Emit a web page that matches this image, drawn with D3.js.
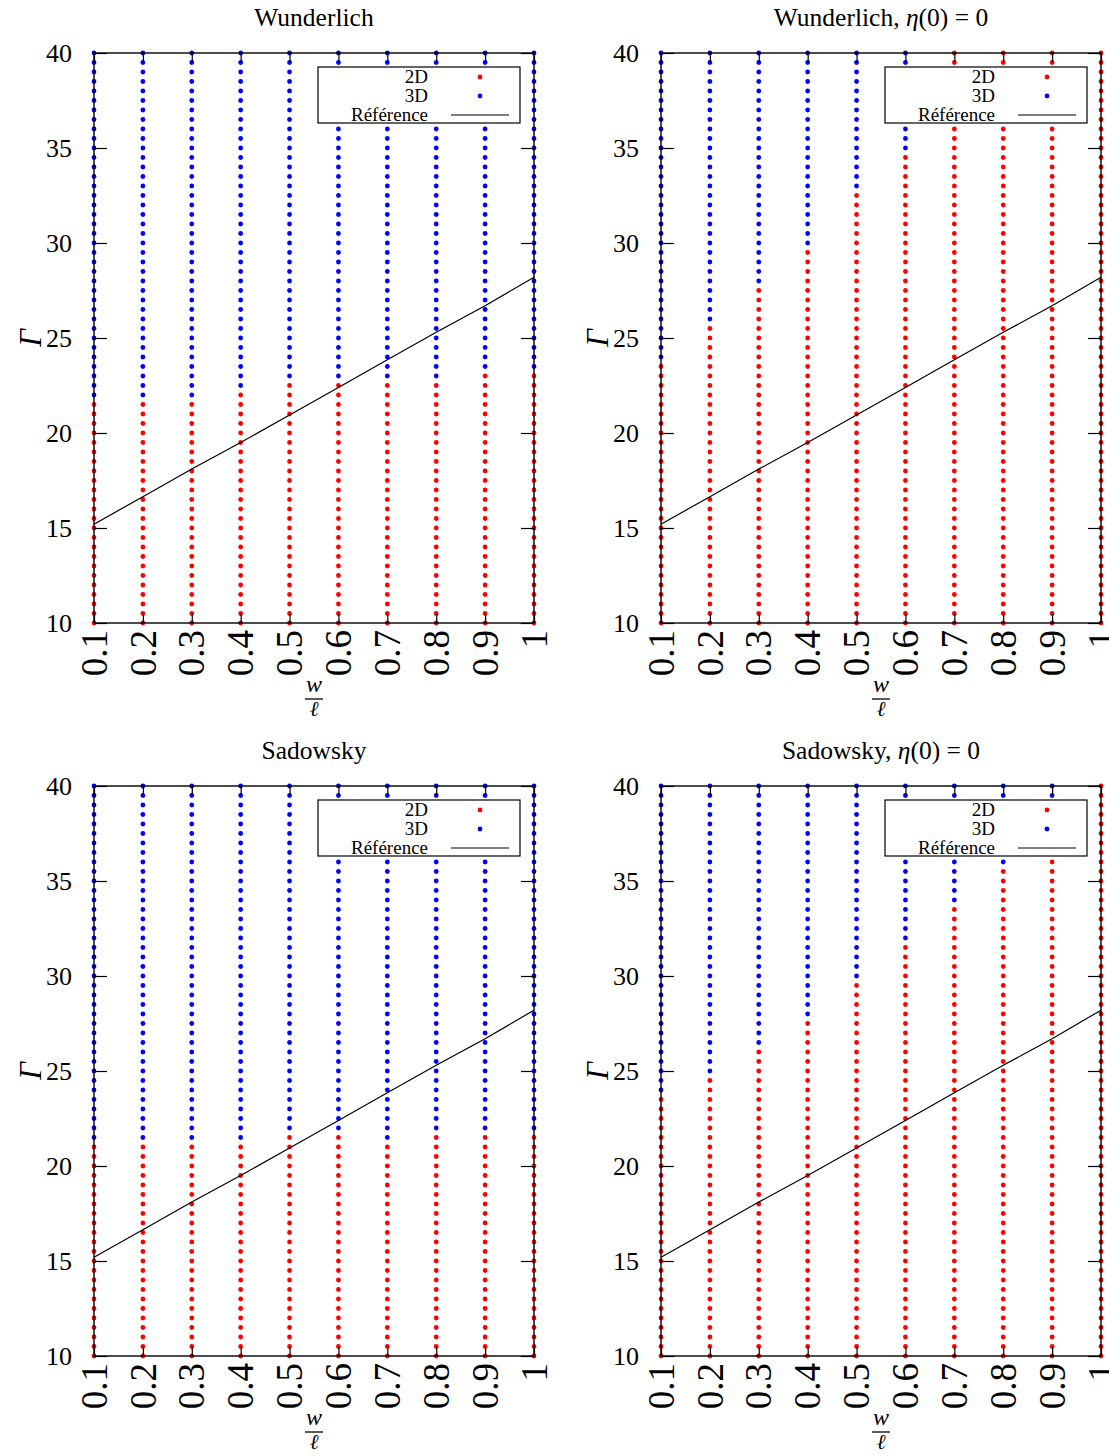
<!DOCTYPE html>
<html>
<head>
<meta charset="utf-8">
<script src="https://cdn.jsdelivr.net/npm/d3@7"></script>
<style>
  body { margin: 0; background: #fff; }
  text { font-family: "Liberation Serif", serif; }
</style>
</head>
<body>
<div id="chart"></div>
<script>
// ratio w/l of each column
const ratios = [0.1, 0.2, 0.3, 0.4, 0.5, 0.6, 0.7, 0.8, 0.9, 1.0];
// Gamma values sampled for each ratio
const gammas = [10, 10.5, 11, 11.5, 12, 12.5, 13, 13.5, 14, 14.5, 15, 15.5, 16, 16.5, 17, 17.5,
  18, 18.5, 19, 19.5, 20, 20.5, 21, 21.5, 22, 22.5, 23, 23.5, 24, 24.5, 25, 25.5, 26, 26.5,
  27, 27.5, 28, 28.5, 29, 29.5, 30, 30.5, 31, 31.5, 32, 32.5, 33, 33.5, 34, 34.5, 35, 35.5,
  36, 36.5, 37, 37.5, 38, 38.5, 39, 39.5, 40];
// highest Gamma still giving a 2D result, per ratio
const last2D_wunderlich = [21.5, 21.5, 21.5, 22, 22.5, 22.5, 22.5, 22.5, 23, 23];
const last2D_wunderlichEta = [23.5, 25.5, 27.5, 29.5, 32.5, 34.5, 40, 40, 40, 40];
const last2D_sadowsky = [21, 21, 21, 21, 21.5, 21.5, 21, 21.5, 21.5, 21.5];
const last2D_sadowskyEta = [23.5, 24.5, 26, 27.5, 29.5, 31.5, 33.5, 35.5, 37.5, 40];
// reference curve
const refGamma = [15.2, 16.65, 18.1, 19.5, 20.95, 22.4, 23.85, 25.3, 26.7, 28.2];

const yTicks = [10, 15, 20, 25, 30, 35, 40];
const xTicks = ratios;

const panels = [
  { title: "Wunderlich", eta: false, left: 94, top: 53, last2D: last2D_wunderlich },
  { title: "Wunderlich, ", eta: true, left: 661, top: 53, last2D: last2D_wunderlichEta },
  { title: "Sadowsky", eta: false, left: 94, top: 786, last2D: last2D_sadowsky },
  { title: "Sadowsky, ", eta: true, left: 661, top: 786, last2D: last2D_sadowskyEta }
];

const W = 440, H = 570;
const red = "#ff0000", blue = "#0000ff";

const svg = d3.select("#chart").append("svg")
  .attr("width", 1109)
  .attr("height", 1456);

const x = d3.scaleLinear().domain([0.1, 1]).range([0, W]);
const y = d3.scaleLinear().domain([10, 40]).range([H, 0]);

panels.forEach(p => {
  const g = svg.append("g").attr("transform", `translate(${p.left},${p.top})`);

  // title
  const t = g.append("text")
    .attr("x", W / 2).attr("y", -27)
    .attr("text-anchor", "middle")
    .attr("font-size", 25.5)
    .text(p.title);
  if (p.eta) {
    t.append("tspan").attr("font-style", "italic").text("η");
    t.append("tspan").text("(0) = 0");
  }

  // points
  const pts = [];
  ratios.forEach((r, i) => {
    gammas.forEach(gm => {
      pts.push({ r: r, g: gm, is2D: gm <= p.last2D[i] });
    });
  });
  g.append("g").selectAll("circle")
    .data(pts.filter(d => d.is2D).concat(pts.filter(d => !d.is2D)))
    .join("circle")
    .attr("cx", d => x(d.r))
    .attr("cy", d => y(d.g))
    .attr("r", 2.4)
    .attr("fill", d => d.is2D ? red : blue);

  // reference line
  g.append("path")
    .datum(ratios.map((r, i) => [r, refGamma[i]]))
    .attr("fill", "none")
    .attr("stroke", "#000")
    .attr("stroke-width", 1.2)
    .attr("d", d3.line().x(d => x(d[0])).y(d => y(d[1])));

  // axes
  const ax = g.append("g").attr("class", "axes");
  const left = ax.append("g").call(d3.axisLeft(y).tickValues(yTicks).tickSize(-13).tickPadding(22));
  left.selectAll("text").attr("font-size", 26).attr("font-family", "Liberation Serif");
  ax.append("g").attr("transform", `translate(${W},0)`)
    .call(d3.axisRight(y).tickValues(yTicks).tickSize(-13).tickFormat(""));
  const bottom = ax.append("g").attr("transform", `translate(0,${H})`)
    .call(d3.axisBottom(x).tickValues(xTicks).tickSize(-9).tickFormat(d3.format("")));
  bottom.selectAll("text")
    .attr("transform", "rotate(-90)")
    .attr("x", -7).attr("y", 0).attr("dy", "0.33em")
    .attr("text-anchor", "end")
    .attr("font-size", 37)
    .attr("font-family", "Liberation Serif");
  ax.append("g")
    .call(d3.axisTop(x).tickValues(xTicks).tickSize(-9).tickFormat(""));
  ax.selectAll(".domain").remove();
  ax.selectAll(".tick line").attr("stroke", "#000").attr("stroke-width", 1.2);
  ax.selectAll("text").attr("fill", "#000");
  g.append("rect")
    .attr("width", W).attr("height", H)
    .attr("fill", "none").attr("stroke", "#000").attr("stroke-width", 1.4);

  // axis labels
  g.append("text")
    .attr("transform", `translate(-53,${H / 2}) rotate(-90)`)
    .attr("text-anchor", "middle")
    .attr("font-size", 31)
    .attr("font-style", "italic")
    .text("Γ");
  const fx = W / 2;
  g.append("text").attr("x", fx).attr("y", H + 69)
    .attr("text-anchor", "middle").attr("font-size", 24).attr("font-style", "italic").text("w");
  g.append("line").attr("x1", fx - 9).attr("x2", fx + 9)
    .attr("y1", H + 76).attr("y2", H + 76).attr("stroke", "#000").attr("stroke-width", 1.3);
  g.append("text").attr("x", fx).attr("y", H + 93)
    .attr("text-anchor", "middle").attr("font-size", 21).attr("font-style", "italic").text("ℓ");

  // legend
  const lg = g.append("g").attr("transform", "translate(224,14)");
  lg.append("rect").attr("width", 202).attr("height", 56)
    .attr("fill", "#fff").attr("stroke", "#000").attr("stroke-width", 1.2);
  const items = [
    { label: "2D", type: "dot", color: red, yy: 10 },
    { label: "3D", type: "dot", color: blue, yy: 29 },
    { label: "Référence", type: "line", color: "#000", yy: 48 }
  ];
  items.forEach(it => {
    lg.append("text").attr("x", 110).attr("y", it.yy).attr("dy", "0.33em")
      .attr("text-anchor", "end").attr("font-size", 19).text(it.label);
    if (it.type === "dot") {
      lg.append("circle").attr("cx", 162).attr("cy", it.yy).attr("r", 2.4).attr("fill", it.color);
    } else {
      lg.append("line").attr("x1", 133).attr("x2", 191).attr("y1", it.yy).attr("y2", it.yy)
        .attr("stroke", "#000").attr("stroke-width", 1.2);
    }
  });
});
</script>
</body>
</html>
